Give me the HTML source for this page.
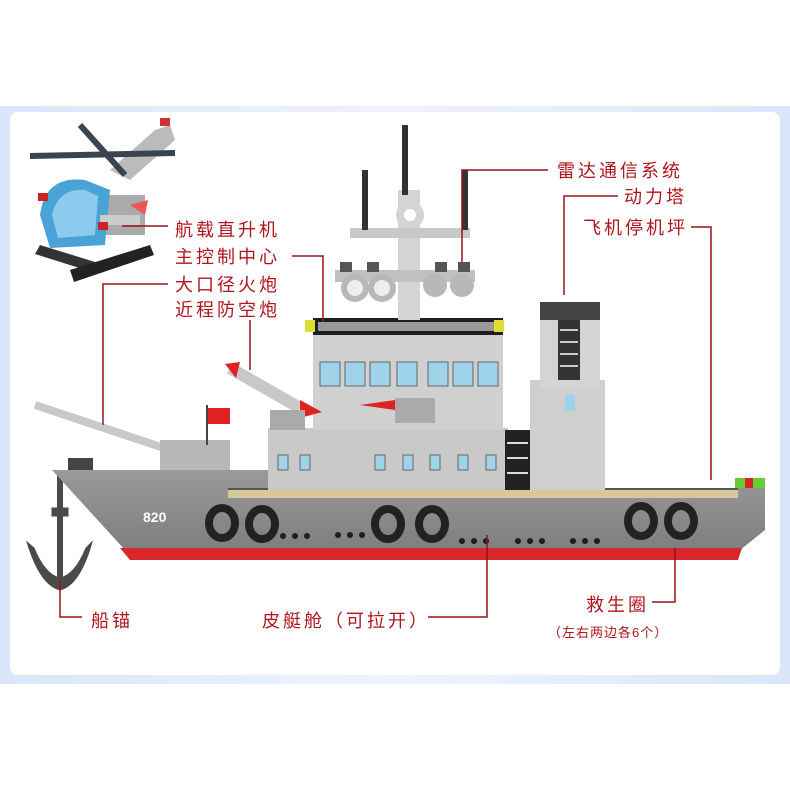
<!DOCTYPE html>
<html><head><meta charset="utf-8"><style>
body{margin:0;background:#fff;}
svg{display:block;}
text{font-family:"Liberation Sans","Noto Sans CJK SC",sans-serif;fill:#b0141c;}
</style></head><body>
<svg width="790" height="790" viewBox="0 0 790 790" xmlns="http://www.w3.org/2000/svg">
<defs>
<linearGradient id="bg" x1="0" x2="1"><stop offset="0" stop-color="#dbe6fb"/><stop offset="0.5" stop-color="#eef3fc"/><stop offset="1" stop-color="#dbe6fb"/></linearGradient>
<linearGradient id="hull" x1="0" y1="0" x2="0" y2="1"><stop offset="0" stop-color="#9a9a9a"/><stop offset="1" stop-color="#7e7e7e"/></linearGradient>
</defs>
<rect x="0" y="0" width="790" height="790" fill="#fff"/>
<rect x="0" y="106" width="790" height="578" fill="url(#bg)"/>
<rect x="10" y="112" width="770" height="563" rx="8" fill="#fff"/>

<!-- helicopter -->
<g>
<polygon points="110,170 155,130 170,125 175,140 130,180" fill="#bbb"/>
<rect x="160" y="118" width="10" height="8" fill="#c33"/>
<polygon points="40,245 95,262 92,272 35,254" fill="#333"/>
<polygon points="70,270 150,245 154,255 74,282" fill="#222"/>
<rect x="95" y="195" width="50" height="40" fill="#aaa"/>
<path d="M40,215 Q45,175 85,180 L110,190 L105,245 L50,248 Z" fill="#4aa3d6"/>
<path d="M52,215 Q58,188 85,190 L98,196 L95,235 L58,238 Z" fill="#8dcaf0"/>
<rect x="100" y="215" width="40" height="10" fill="#ccc"/>
<polygon points="130,205 148,200 145,215" fill="#e55"/>
<rect x="38" y="193" width="10" height="8" fill="#c22"/>
<rect x="98" y="222" width="10" height="8" fill="#c22"/>
<line x1="30" y1="156" x2="175" y2="153" stroke="#3a4350" stroke-width="6"/>
<line x1="80" y1="125" x2="125" y2="175" stroke="#3a4350" stroke-width="6"/>
</g>

<!-- anchor -->
<g fill="#4a4a4a" stroke="#4a4a4a">
<line x1="60" y1="470" x2="60" y2="580" stroke-width="6"/>
<rect x="52" y="508" width="16" height="8"/>
<path d="M27,542 Q40,585 60,590 Q80,585 92,542 L86,548 Q75,575 60,578 Q45,575 34,548 Z"/>
</g>

<!-- gun barrel -->
<line x1="35" y1="405" x2="185" y2="455" stroke="#c8c8c8" stroke-width="8"/>
<rect x="160" y="440" width="70" height="30" fill="#b8b8b8"/>
<rect x="68" y="458" width="25" height="12" fill="#444"/>

<!-- hull -->
<polygon points="52,470 270,470 270,488 765,488 765,530 740,550 125,550" fill="url(#hull)"/>
<polygon points="120,548 742,548 738,560 130,560" fill="#d9262c"/>
<rect x="228" y="488" width="510" height="10" fill="#d8c79a"/>
<rect x="228" y="488" width="510" height="2" fill="#555"/>
<text x="143" y="522" font-size="14" font-weight="bold" style="fill:#fff">820</text>
<g fill="#1d1d1d">
<circle cx="283" cy="536" r="3"/><circle cx="295" cy="536" r="3"/><circle cx="307" cy="536" r="3"/>
<circle cx="338" cy="535" r="3"/><circle cx="350" cy="535" r="3"/><circle cx="362" cy="535" r="3"/>
<circle cx="462" cy="541" r="3"/><circle cx="474" cy="541" r="3"/><circle cx="486" cy="541" r="3"/>
<circle cx="518" cy="541" r="3"/><circle cx="530" cy="541" r="3"/><circle cx="542" cy="541" r="3"/>
<circle cx="573" cy="541" r="3"/><circle cx="585" cy="541" r="3"/><circle cx="597" cy="541" r="3"/>
</g>
<g fill="none" stroke="#222" stroke-width="8">
<ellipse cx="222" cy="523" rx="13" ry="15"/><ellipse cx="262" cy="524" rx="13" ry="15"/>
<ellipse cx="388" cy="524" rx="13" ry="15"/><ellipse cx="432" cy="524" rx="13" ry="15"/>
<ellipse cx="641" cy="521" rx="13" ry="15"/><ellipse cx="681" cy="521" rx="13" ry="15"/>
</g>
<rect x="735" y="478" width="30" height="10" fill="#6c3"/><rect x="745" y="478" width="8" height="10" fill="#d22"/>

<!-- superstructure -->
<rect x="268" y="428" width="240" height="62" fill="#c9c9c9"/>
<rect x="313" y="335" width="190" height="95" fill="#d0d0d0"/>
<rect x="313" y="318" width="190" height="17" fill="#1e1e1e"/>
<rect x="318" y="322" width="180" height="9" fill="#999"/>
<rect x="305" y="320" width="10" height="12" fill="#dd3"/><rect x="494" y="320" width="10" height="12" fill="#dd3"/>
<g fill="#9fd3ea" stroke="#666" stroke-width="1">
<rect x="320" y="362" width="20" height="24"/><rect x="345" y="362" width="20" height="24"/><rect x="370" y="362" width="20" height="24"/><rect x="397" y="362" width="20" height="24"/>
<rect x="428" y="362" width="20" height="24"/><rect x="453" y="362" width="20" height="24"/><rect x="478" y="362" width="20" height="24"/>
<rect x="278" y="455" width="10" height="15"/><rect x="300" y="455" width="10" height="15"/><rect x="375" y="455" width="10" height="15"/><rect x="403" y="455" width="10" height="15"/><rect x="430" y="455" width="10" height="15"/><rect x="458" y="455" width="10" height="15"/><rect x="486" y="455" width="10" height="15"/>
</g>
<rect x="395" y="398" width="40" height="25" fill="#aaa"/>
<rect x="505" y="430" width="25" height="60" fill="#222"/>
<g stroke="#ddd" stroke-width="2"><line x1="507" y1="443" x2="528" y2="443"/><line x1="507" y1="458" x2="528" y2="458"/><line x1="507" y1="473" x2="528" y2="473"/></g>
<polygon points="360,405 395,400 395,410" fill="#d22"/>

<!-- missile launcher -->
<line x1="230" y1="368" x2="300" y2="408" stroke="#c8c8c8" stroke-width="12"/>
<polygon points="225,364 240,362 236,378" fill="#d22"/>
<polygon points="300,400 322,412 300,418" fill="#d22"/>
<rect x="270" y="410" width="35" height="20" fill="#aaa"/>
<!-- flag -->
<line x1="207" y1="405" x2="207" y2="445" stroke="#444" stroke-width="2"/>
<rect x="208" y="408" width="22" height="16" fill="#d22"/>

<!-- mast -->
<rect x="398" y="190" width="22" height="130" fill="#d4d4d4"/>
<circle cx="410" cy="215" r="14" fill="#d4d4d4"/><circle cx="410" cy="215" r="6" fill="#fff"/>
<rect x="350" y="228" width="120" height="10" fill="#c8c8c8"/>
<rect x="402" y="125" width="6" height="70" fill="#333"/>
<rect x="362" y="170" width="6" height="60" fill="#333"/>
<rect x="462" y="170" width="6" height="60" fill="#333"/>
<rect x="335" y="270" width="140" height="12" fill="#c0c0c0"/>
<circle cx="355" cy="288" r="14" fill="#b8b8b8"/><circle cx="355" cy="288" r="8" fill="#eee"/>
<circle cx="382" cy="288" r="14" fill="#b8b8b8"/><circle cx="382" cy="288" r="8" fill="#eee"/>
<circle cx="435" cy="285" r="12" fill="#b8b8b8"/><circle cx="462" cy="285" r="12" fill="#b8b8b8"/>
<rect x="340" y="262" width="12" height="10" fill="#555"/><rect x="367" y="262" width="12" height="10" fill="#555"/><rect x="435" y="262" width="12" height="10" fill="#555"/><rect x="458" y="262" width="12" height="10" fill="#555"/>

<!-- tower -->
<rect x="530" y="380" width="75" height="110" fill="#cfcfcf"/>
<rect x="540" y="318" width="60" height="70" fill="#d4d4d4"/>
<rect x="540" y="302" width="60" height="18" fill="#444"/>
<rect x="558" y="320" width="22" height="60" fill="#333"/>
<g stroke="#ccc" stroke-width="2"><line x1="560" y1="330" x2="578" y2="330"/><line x1="560" y1="342" x2="578" y2="342"/><line x1="560" y1="354" x2="578" y2="354"/><line x1="560" y1="366" x2="578" y2="366"/></g>
<rect x="565" y="395" width="10" height="16" fill="#9fd3ea"/>

<!-- connectors -->
<g fill="none" stroke="#9c1018" stroke-width="1.5">
<polyline points="122,226 168,226"/>
<polyline points="292,256 323,256 323,322"/>
<polyline points="168,284 103,284 103,425"/>
<polyline points="250,320 250,370"/>
<polyline points="548,170 462,170 462,262"/>
<polyline points="618,196 564,196 564,295"/>
<polyline points="691,227 711,227 711,480"/>
<polyline points="60,580 60,617 82,617"/>
<polyline points="428,617 487,617 487,535"/>
<polyline points="652,602 675,602 675,548"/>
</g>

<!-- labels -->
<g font-size="18" letter-spacing="3">
<text x="175" y="236">航载直升机</text>
<text x="175" y="263">主控制中心</text>
<text x="175" y="291">大口径火炮</text>
<text x="175" y="316">近程防空炮</text>
<text x="557" y="177">雷达通信系统</text>
<text x="624" y="203">动力塔</text>
<text x="583" y="234">飞机停机坪</text>
<text x="91" y="627">船锚</text>
<text x="262" y="627">皮艇舱（可拉开）</text>
<text x="586" y="611">救生圈</text>
</g>
<text x="548" y="637" font-size="13" letter-spacing="1">（左右两边各6个）</text>
</svg>
</body></html>
